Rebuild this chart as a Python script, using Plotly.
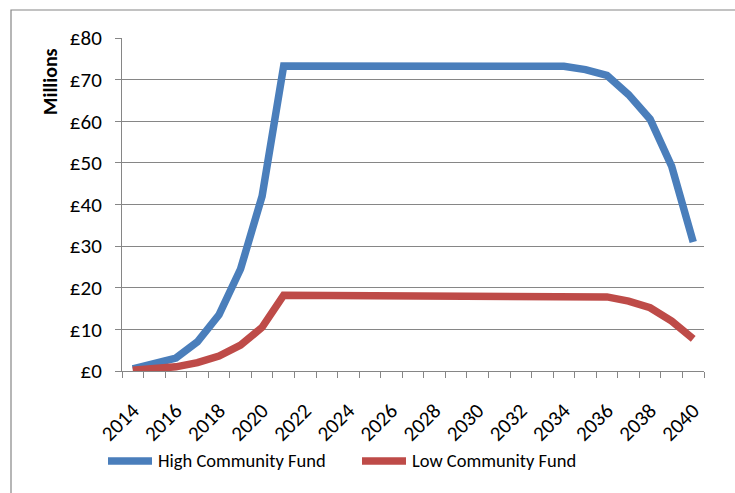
import plotly.graph_objects as go

# Annual payments, £ millions
years = list(range(2014, 2041))
high_fund = [0.5, 1.7, 3.1, 7.0, 13.5, 24.5, 42.0, 73.3, 73.3, 73.3, 73.3, 73.3,
             73.3, 73.3, 73.3, 73.3, 73.3, 73.3, 73.3, 73.3, 73.2, 72.4, 71.0,
             66.4, 60.5, 49.2, 31.0]
low_fund = [0.2, 0.5, 1.0, 2.0, 3.6, 6.2, 10.5, 18.2, 18.2, 18.2, 18.2, 18.2,
            18.2, 18.2, 18.2, 18.2, 18.2, 18.2, 18.2, 18.2, 18.2, 18.1, 17.8,
            16.8, 15.2, 12.0, 7.7]
series_names = ["High Community Fund", "Low Community Fund"]
series_colors = ["#4A7EBB", "#BE4B48"]
y_ticks = [0, 10, 20, 30, 40, 50, 60, 70, 80]
x_ticks = years[::2]

FONT = "Carlito, Lato, 'Liberation Sans', sans-serif"
W, H = 735, 493
L, R, T, B = 122, 31, 38, 122
pw, ph = W - L - R, H - T - B


def px_x(x):
    return (x - L) / pw


def px_y(y):
    return (H - B - y) / ph


fig = go.Figure()
for name, vals, col in zip(series_names, [high_fund, low_fund], series_colors):
    fig.add_trace(go.Scatter(
        x=years, y=vals, mode="lines", name=name,
        line=dict(color=col, width=7.5),
        showlegend=False,
    ))

fig.update_xaxes(
    range=[2013.5, 2040.5],
    tickvals=x_ticks, ticktext=[str(v) for v in x_ticks],
    tickangle=-45, ticks="", showgrid=False, ticklabelstandoff=18,
    showline=True, linecolor="#868686", linewidth=1,
    tickfont=dict(family=FONT, size=21, color="black"),
    minor=dict(tickvals=[y - 0.5 for y in years] + [2040.5],
               ticks="outside", ticklen=6, tickcolor="#868686", showgrid=False),
    zeroline=False,
)
fig.update_yaxes(
    range=[0, 80], tickvals=y_ticks, ticktext=[f"£{v}" for v in y_ticks],
    ticks="outside", ticklen=6, tickcolor="#868686", ticklabelstandoff=9,
    showgrid=True, gridcolor="#868686", gridwidth=1,
    showline=True, linecolor="#868686", linewidth=1,
    tickfont=dict(family=FONT, size=21, color="black"),
    zeroline=False,
)

# Chart frame
fig.add_shape(type="rect", xref="paper", yref="paper",
              x0=px_x(11), x1=px_x(760), y0=px_y(520), y1=px_y(10),
              line=dict(color="#868686", width=1.2), layer="below")

# Axis title
fig.add_annotation(text="<b>Millions</b>", xref="paper", yref="paper",
                   x=px_x(50), y=px_y(82), xanchor="center", yanchor="middle",
                   textangle=-90, showarrow=False,
                   font=dict(family=FONT, size=20, color="black"))

# Legend
legend_pos = [(105, 155), (359, 409)]
for (x0, x1), name, col in zip(legend_pos, series_names, series_colors):
    fig.add_shape(type="line", xref="paper", yref="paper",
                  x0=px_x(x0 + 3), x1=px_x(x1 - 3), y0=px_y(461), y1=px_y(461),
                  line=dict(color=col, width=7.5))
    fig.add_annotation(text=name, xref="paper", yref="paper",
                       x=px_x(x1 + 1), y=px_y(461), xanchor="left", yanchor="middle",
                       showarrow=False, font=dict(family=FONT, size=18.5, color="black"))

fig.update_layout(
    width=W, height=H,
    margin=dict(l=L, r=R, t=T, b=B),
    paper_bgcolor="white", plot_bgcolor="white",
)
fig.write_html("out.html")
